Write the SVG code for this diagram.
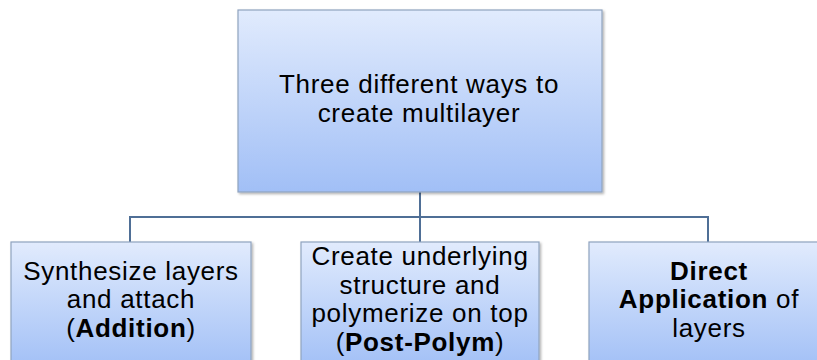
<svg xmlns="http://www.w3.org/2000/svg" width="817" height="360" viewBox="0 0 817 360">
  <style>
    .box { stroke: #8fa3bf; stroke-width: 1.2; }
    .label { font-family: "Liberation Sans", Arial, sans-serif; font-size: 26px; letter-spacing: 0.7px; fill: #000; text-anchor: middle; }
    .b { font-weight: bold; }
    .wire { fill: none; stroke: #4f6f96; stroke-width: 2; }
  </style>
  <defs>
    <linearGradient id="blueGrad" x1="0" y1="0" x2="0" y2="1">
      <stop offset="0" stop-color="#e1ebfd"/>
      <stop offset="1" stop-color="#a1bff6"/>
    </linearGradient>
    <linearGradient id="blueGradBottom" gradientUnits="userSpaceOnUse" x1="0" y1="242" x2="0" y2="370">
      <stop offset="0" stop-color="#e1ebfd"/>
      <stop offset="1" stop-color="#a1bff6"/>
    </linearGradient>
    <filter id="shadow" x="-5%" y="-5%" width="115%" height="115%">
      <feDropShadow dx="1.5" dy="1.5" stdDeviation="1.2" flood-color="#000" flood-opacity="0.3"/>
    </filter>
  </defs>

  <g id="connectors">
    <path class="wire" d="M420 192 V217"/>
    <path class="wire" d="M130 242 V217 H708 V242"/>
    <path class="wire" d="M420 217 V242"/>
  </g>

  <g id="root">
    <rect class="box" x="238" y="10" width="364" height="182" fill="url(#blueGrad)" filter="url(#shadow)"/>
    <text class="label" x="419" y="93">Three different ways to</text>
    <text class="label" x="419" y="122">create multilayer</text>
  </g>

  <g id="addition">
    <rect class="box" x="11" y="242" width="240" height="130" fill="url(#blueGradBottom)" filter="url(#shadow)"/>
    <text class="label" x="131" y="280">Synthesize layers</text>
    <text class="label" x="131" y="308">and attach</text>
    <text class="label" x="131" y="337">(<tspan class="b">Addition</tspan>)</text>
  </g>

  <g id="post-polym">
    <rect class="box" x="301" y="242" width="238" height="130" fill="url(#blueGradBottom)" filter="url(#shadow)"/>
    <text class="label" x="420" y="265">Create underlying</text>
    <text class="label" x="420" y="294">structure and</text>
    <text class="label" x="420" y="322">polymerize on top</text>
    <text class="label" x="420" y="351">(<tspan class="b">Post-Polym</tspan>)</text>
  </g>

  <g id="direct">
    <rect class="box" x="589" y="242" width="240" height="130" fill="url(#blueGradBottom)" filter="url(#shadow)"/>
    <text class="label b" x="709" y="280">Direct</text>
    <text class="label" x="709" y="308"><tspan class="b">Application</tspan> of</text>
    <text class="label" x="709" y="337">layers</text>
  </g>
</svg>
